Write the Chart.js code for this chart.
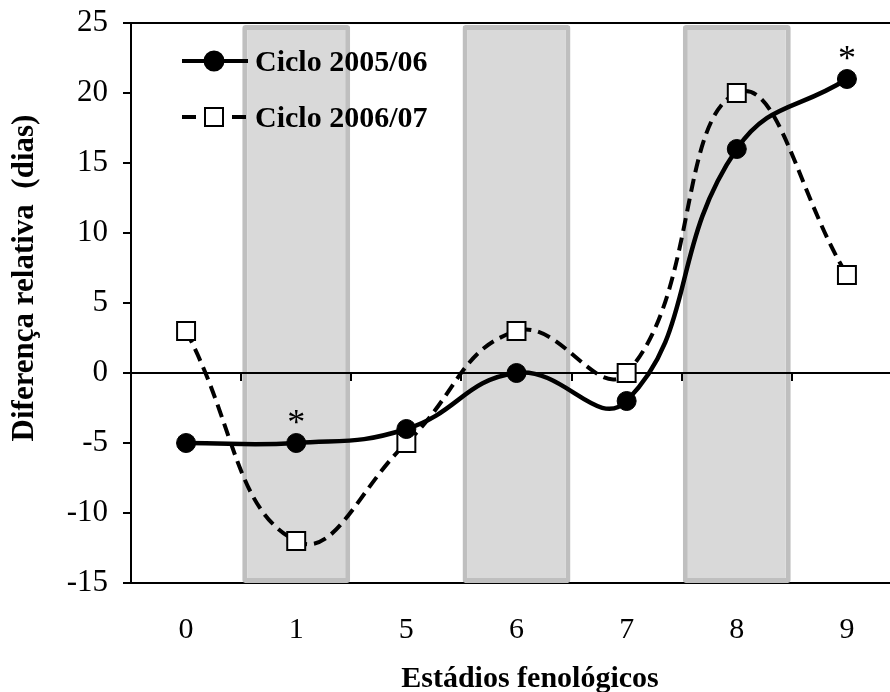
<!DOCTYPE html>
<html>
<head>
<meta charset="utf-8">
<script src="https://cdn.jsdelivr.net/npm/chart.js@4.4.0/dist/chart.umd.min.js"></script>
<style>
  html, body { margin: 0; padding: 0; background: #fff; overflow: hidden; }
  #wrap { width: 920px; height: 692px; }
</style>
</head>
<body>
<div id="wrap"><canvas id="chart" width="920" height="692"></canvas></div>
<script>
// Stages on the x axis
const stages = ['0', '1', '5', '6', '7', '8', '9'];

// Relative difference (days) per cycle
const ciclo0506 = [-5, -5, -4, 0, -2, 16, 21];
const ciclo0607 = [3, -12, -5, 3, 0, 20, 7];

// significance marks for 2005/06
const marks0506 = ['', '*', '', '', '', '', '*'];

// stages shaded in grey
const shadedStages = ['1', '6', '8'];

const yMin = -15, yMax = 25, yStep = 5;
const bandTop = 24.85;

const FONT = 'Liberation Serif, Times New Roman, serif';

const bandData = stages.map(s => shadedStages.includes(s) ? [yMin, bandTop] : null);

// zero line + small ticks, drawn right after the grey bands
const zeroLinePlugin = {
    id: 'zeroLine',
    afterDatasetDraw(chart, args) {
        if (args.index !== 0) return;
        const ctx = chart.ctx;
        const x = chart.scales.x, y = chart.scales.y;
        const y0 = y.getPixelForValue(0);
        const area = chart.chartArea;
        ctx.save();
        ctx.strokeStyle = '#000';
        ctx.lineWidth = 2;
        ctx.beginPath();
        ctx.moveTo(area.left, y0);
        ctx.lineTo(area.right, y0);
        const half = (x.getPixelForValue(1) - x.getPixelForValue(0)) / 2;
        for (let i = 1; i < stages.length; i++) {
            const px = Math.round(x.getPixelForValue(i) - half);
            ctx.moveTo(px, y0);
            ctx.lineTo(px, y0 + 8);
        }
        ctx.stroke();
        ctx.restore();
    }
};

// top border, legend, asterisks, axis titles
const decorPlugin = {
    id: 'decor',
    afterDraw(chart) {
        const ctx = chart.ctx;
        const area = chart.chartArea;
        ctx.save();
        ctx.strokeStyle = '#000';
        ctx.lineWidth = 2;
        ctx.beginPath();
        ctx.moveTo(area.left, area.top);
        ctx.lineTo(area.right, area.top);
        ctx.stroke();

        // asterisks
        const meta = chart.getDatasetMeta(1);
        ctx.fillStyle = '#000';
        ctx.font = '36px ' + FONT;
        ctx.textAlign = 'center';
        ctx.textBaseline = 'alphabetic';
        marks0506.forEach((m, i) => {
            if (!m) return;
            const pt = meta.data[i];
            ctx.fillText(m, pt.x, pt.y - 9);
        });

        // legend
        const rows = [chart.data.datasets[1], chart.data.datasets[2]];
        rows.forEach((ds, i) => {
            const ly = 61 + i * 56;
            ctx.strokeStyle = '#000';
            ctx.lineWidth = 4;
            ctx.beginPath();
            if (ds.borderDash) {
                ctx.moveTo(182, ly); ctx.lineTo(196, ly);
                ctx.moveTo(232, ly); ctx.lineTo(246, ly);
            } else {
                ctx.moveTo(182, ly); ctx.lineTo(248, ly);
            }
            ctx.stroke();
            ctx.fillStyle = ds.pointBackgroundColor;
            ctx.lineWidth = 2;
            ctx.beginPath();
            if (ds.pointStyle === 'rect') {
                ctx.rect(205, ly - 9, 18, 18);
            } else {
                ctx.arc(214, ly, 9.5, 0, Math.PI * 2);
            }
            ctx.fill();
            ctx.stroke();
            ctx.fillStyle = '#000';
            ctx.font = 'bold 30px ' + FONT;
            ctx.textAlign = 'left';
            ctx.textBaseline = 'middle';
            ctx.fillText(ds.label, 255, ly + 2);
        });

        // x axis title
        ctx.font = 'bold 30px ' + FONT;
        ctx.textAlign = 'center';
        ctx.textBaseline = 'alphabetic';
        ctx.fillText('Estádios fenológicos', 530, 687);

        // y axis title
        ctx.translate(33, 278);
        ctx.rotate(-Math.PI / 2);
        ctx.font = 'bold 31px ' + FONT;
        ctx.textAlign = 'center';
        ctx.textBaseline = 'alphabetic';
        ctx.fillText('Diferença relativa  (dias)', 0, 0);
        ctx.restore();
    }
};

new Chart(document.getElementById('chart'), {
    type: 'line',
    data: {
        labels: stages,
        datasets: [
            {
                type: 'bar',
                label: 'bands',
                data: bandData,
                backgroundColor: '#d9d9d9',
                borderColor: '#bfbfbf',
                borderWidth: 5,
                borderSkipped: false,
                borderRadius: 3,
                barPercentage: 0.98,
                categoryPercentage: 1,
                order: 3
            },
            {
                label: 'Ciclo 2005/06',
                data: ciclo0506,
                borderColor: '#000',
                borderWidth: 4.5,
                tension: 0.45,
                pointStyle: 'circle',
                pointRadius: 9.5,
                pointBackgroundColor: '#000',
                pointBorderColor: '#000',
                pointBorderWidth: 1,
                order: 1
            },
            {
                label: 'Ciclo 2006/07',
                data: ciclo0607,
                borderColor: '#000',
                borderWidth: 4,
                borderDash: [13, 7],
                tension: 0.45,
                pointStyle: 'rect',
                pointRadius: 12.7,
                pointBackgroundColor: '#fff',
                pointBorderColor: '#000',
                pointBorderWidth: 2,
                order: 2
            }
        ]
    },
    options: {
        responsive: false,
        animation: false,
        layout: { padding: { left: 0, right: 18, top: 23, bottom: 0 } },
        plugins: {
            legend: { display: false },
            tooltip: { enabled: false }
        },
        scales: {
            x: {
                offset: true,
                grid: { display: false, drawTicks: false },
                border: { display: true, color: '#000', width: 2 },
                ticks: { color: '#000', font: { family: FONT, size: 30 }, padding: 29 },
                afterFit(s) { s.height = 109; }
            },
            y: {
                min: yMin,
                max: yMax,
                ticks: { stepSize: yStep, color: '#000', font: { family: FONT, size: 31 }, padding: 15 },
                grid: { drawOnChartArea: false, color: '#000', tickLength: 8, lineWidth: 2 },
                border: { display: true, color: '#000', width: 2 },
                afterFit(s) {
                    s.width = 131;
                    s.paddingTop = 0;
                    s.paddingBottom = 0;
                }
            }
        }
    },
    plugins: [zeroLinePlugin, decorPlugin]
});
</script>
</body>
</html>
